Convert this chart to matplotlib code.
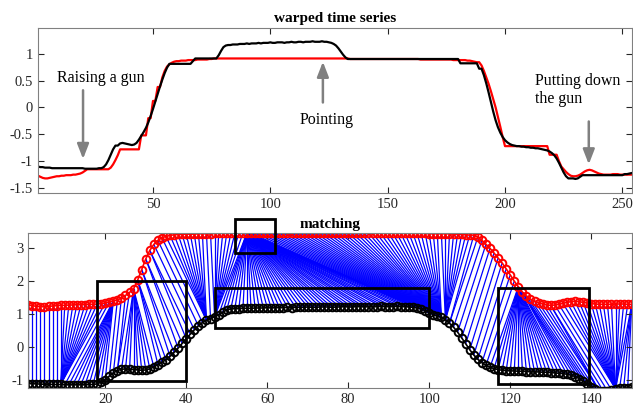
import numpy as np
import matplotlib
matplotlib.use('Agg')
import matplotlib.pyplot as plt
from matplotlib.collections import LineCollection
from matplotlib.patches import Rectangle

plt.rcParams['font.family'] = ['Liberation Serif', 'DejaVu Serif']

# gesture 1 (red) and gesture 2 (black)
red = [-1.27, -1.29, -1.31, -1.32, -1.32, -1.31, -1.30, -1.29, -1.28, -1.28,
       -1.27, -1.27, -1.26, -1.26, -1.26, -1.25, -1.25, -1.24, -1.23, -1.21,
       -1.18, -1.15, -1.12, -1.06, -0.98, -0.89, -0.78,
       -0.52, -0.20, 0.12, 0.38, 0.56, 0.68, 0.76, 0.80, 0.83, 0.85, 0.86,
       0.86, 0.87, 0.87, 0.87, 0.88, 0.88, 0.88, 0.88, 0.89, 0.89,
       0.89, 0.89, 0.89, 0.90, 0.90, 0.91, 0.91, 0.90, 0.90, 0.90,
       0.90, 0.90, 0.90, 0.90, 0.90, 0.90, 0.90, 0.90, 0.90, 0.90,
       0.90, 0.90, 0.90, 0.90, 0.90, 0.90, 0.90, 0.90, 0.90, 0.90,
       0.90, 0.90, 0.90, 0.90, 0.90, 0.90, 0.90, 0.89, 0.89, 0.89,
       0.89, 0.89, 0.89, 0.89, 0.89, 0.89, 0.89, 0.89, 0.89, 0.89,
       0.89, 0.88, 0.88, 0.88, 0.88, 0.88, 0.88, 0.87, 0.87, 0.86,
       0.85, 0.84,
       0.84, 0.78, 0.68, 0.56, 0.44, 0.30, 0.15, 0.00, -0.18, -0.36,
       -0.55, -0.72, -0.88, -1.00, -1.10, -1.15, -1.20, -1.24, -1.27, -1.28,
       -1.27, -1.25, -1.22, -1.19, -1.17, -1.16, -1.17, -1.19, -1.21, -1.23,
       -1.24, -1.25, -1.25, -1.25, -1.25, -1.24, -1.24, -1.24, -1.25, -1.25]

black = [-1.10, -1.11, -1.11, -1.12, -1.12, -1.12, -1.13, -1.13, -1.13, -1.14,
         -1.14, -1.14, -1.14, -1.14, -1.14, -1.13, -1.13,
         -1.11, -1.06, -0.98, -0.88, -0.78, -0.71, -0.67,
         -0.66, -0.67, -0.68, -0.69, -0.70, -0.69, -0.66, -0.60,
         -0.53, -0.46, -0.38, -0.28, -0.16, -0.03, 0.11, 0.25, 0.39, 0.52,
         0.64, 0.74, 0.81, 0.86, 0.91, 0.97, 1.05, 1.12,
         1.15, 1.16, 1.16, 1.17, 1.17, 1.17, 1.18, 1.18, 1.18, 1.19,
         1.18, 1.19, 1.19, 1.19, 1.20, 1.19, 1.20, 1.20, 1.20, 1.21,
         1.20, 1.20, 1.21, 1.21, 1.21, 1.20, 1.21, 1.21, 1.22, 1.21,
         1.21, 1.22, 1.22, 1.21, 1.22, 1.22, 1.22, 1.23, 1.22, 1.22,
         1.22, 1.23, 1.22, 1.22, 1.21, 1.20, 1.18, 1.15,
         1.10, 1.04, 0.98, 0.93, 0.90,
         0.82, 0.72, 0.60, 0.45, 0.28, 0.10, -0.08, -0.24, -0.37, -0.47,
         -0.55, -0.61, -0.65, -0.68, -0.70, -0.71, -0.72, -0.72, -0.73, -0.73,
         -0.74, -0.74,
         -0.75, -0.75, -0.76, -0.76, -0.77, -0.78, -0.79, -0.80, -0.82, -0.85,
         -0.89, -0.95, -1.03, -1.12, -1.21, -1.28, -1.32, -1.33, -1.32, -1.29,
         -1.26, -1.24, -1.24, -1.23, -1.22]

# warping path, as runs of moves:
# 'd' = both advance, 'r' = only red advances, 'b' = only black advances
path_runs = [('d', 8), ('r', 11), ('d', 2), ('b', 9), ('d', 3), ('r', 1), ('d', 1),
             ('b', 8), ('d', 1), ('b', 2), ('d', 1), ('b', 1), ('d', 1), ('b', 1),
             ('d', 1), ('b', 1), ('d', 4), ('r', 9), ('d', 2), ('r', 9), ('b', 56),
             ('r', 47), ('d', 1), ('r', 7), ('d', 1), ('r', 1), ('d', 10), ('b', 18),
             ('d', 1), ('b', 3), ('d', 5), ('r', 2), ('b', 1), ('d', 3), ('r', 17),
             ('b', 4)]

red_offset = 2.54

# highlighted regions: x0, x1, y0, y1
boxes = [(18, 40, -1.03, 2.0), (52, 62, 2.85, 3.86), (47, 100, 0.57, 1.78), (117, 139.5, -1.12, 1.77)]

r = np.array(red)
b = np.array(black)
n, m = len(r), len(b)

i, j = 0, 0
path = [(0, 0)]
for move, cnt in path_runs:
    for _ in range(cnt):
        if move in 'dr':
            i += 1
        if move in 'db':
            j += 1
        path.append((i, j))
path = np.array(path)
ix, jx = path[:, 0], path[:, 1]

fig = plt.figure(figsize=(6.33, 4.09), dpi=100)
ax1 = fig.add_axes([0.060, 0.527, 0.938, 0.405])
ax2 = fig.add_axes([0.0447, 0.051, 0.9533, 0.379])

gray = '#808080'
for ax in (ax1, ax2):
    ax.tick_params(direction='in', top=True, right=True, colors='#262626', labelsize=10.5, length=4)
    for s in ax.spines.values():
        s.set_color(gray)

# top: warped series
t = np.arange(1, len(path) + 1)
ax1.plot(t, r[ix], color='red', lw=1.6)
ax1.plot(t, b[jx], color='black', lw=1.6)
ax1.set_xlim(1, 254)
ax1.set_ylim(-1.6, 1.48)
ax1.set_xticks([50, 100, 150, 200, 250])
ax1.set_yticks([-1.5, -1, -0.5, 0, 0.5, 1])
ax1.set_yticklabels(['-1.5', '-1', '-0.5', '0', '0.5', '1'])
ax1.set_title('warped time series', fontweight='bold', fontsize=11, pad=4)

arr = dict(arrowstyle='-|>,head_width=0.35,head_length=0.9', color=gray, lw=1.8)
ax1.annotate('', xy=(20.2, -1.01), xytext=(20.2, 0.37), arrowprops=arr)
ax1.text(27.7, 0.54, 'Raising a gun', fontsize=11.5, ha='center', va='center')
ax1.annotate('', xy=(122.4, 0.9), xytext=(122.4, 0.04), arrowprops=arr)
ax1.text(123.9, -0.24, 'Pointing', fontsize=11.5, ha='center', va='center')
ax1.annotate('', xy=(235.7, -1.11), xytext=(235.7, -0.21), arrowprops=arr)
ax1.text(212.6, 0.32, 'Putting down\nthe gun', fontsize=11.5, ha='left', va='center', linespacing=1.2)

# bottom: matching
segs = [[(a + 1, r[a] + red_offset), (c + 1, b[c])] for a, c in path]
ax2.add_collection(LineCollection(segs, colors='blue', linewidths=0.9, zorder=1))
ax2.plot(np.arange(1, n + 1), r + red_offset, '-o', color='red', mfc='none', ms=5.5, mew=1.4, lw=1.2, zorder=2)
ax2.plot(np.arange(1, m + 1), b, '-o', color='black', mfc='none', ms=5.5, mew=1.4, lw=1.2, zorder=2)
for x0, x1, y0, y1 in boxes:
    ax2.add_patch(Rectangle((x0, y0), x1 - x0, y1 - y0, fill=False, ec='black', lw=2, zorder=3, clip_on=False))
ax2.set_xlim(1, 150)
ax2.set_ylim(-1.24, 3.44)
ax2.set_xticks([20, 40, 60, 80, 100, 120, 140])
ax2.set_yticks([-1, 0, 1, 2, 3])
ax2.set_yticklabels(['-1', '0', '1', '2', '3'])
ax2.set_title('matching', fontweight='bold', fontsize=11, pad=4)

fig.savefig('out.png', dpi=100)
